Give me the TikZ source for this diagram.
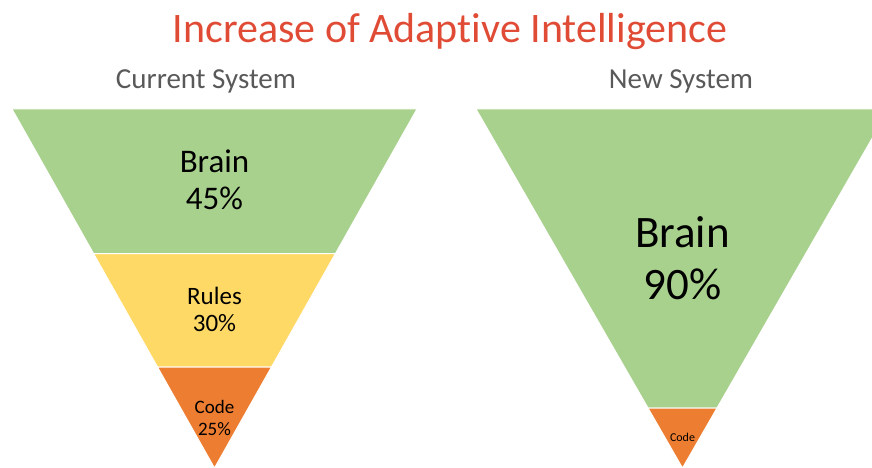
\documentclass[tikz,border=0pt]{standalone}
\usepackage{fontspec}
\setmainfont{Carlito}[Ligatures=NoCommon]
\usetikzlibrary{positioning}
\definecolor{brainGreen}{HTML}{A9D18E}
\definecolor{rulesYellow}{HTML}{FFD966}
\definecolor{codeOrange}{HTML}{ED7D31}
\definecolor{titleRed}{HTML}{E04B35}
\definecolor{subGray}{HTML}{595959}

\begin{document}
\begin{tikzpicture}[
      x=1pt,y=-1pt,
      band/.style={draw=white, line width=1pt},
      heading/.style={text=subGray, inner sep=0pt, font=\fontsize{29}{34}\selectfont},
      share/.style={align=center, inner sep=0pt, text=black}
      ]
      \useasboundingbox (0,0) rectangle (872,468);
      \clip (0,0) rectangle (872,468);

      % titles
      \node[text=titleRed, inner sep=0pt, font=\fontsize{42}{48}\selectfont] (title) at (450,32) {Increase of Adaptive Intelligence};
      \node[heading] (cur) at (206,81) {Current System};
      \node[heading] (new) at (681,81) {New System};

      % current system funnel
      \fill[brainGreen, band] (12,109) -- (417,109) -- (335.5,253.5) -- (93.5,253.5) -- cycle;
      \fill[rulesYellow, band] (93.5,253.5) -- (335.5,253.5) -- (271.5,367) -- (157.5,367) -- cycle;
      \fill[codeOrange, band] (157.5,367) -- (271.5,367) -- (214.5,468) -- cycle;

      % new system funnel
      \fill[brainGreen, band] (476,109) -- (889,109) -- (717,408) -- (648,408) -- cycle;
      \fill[codeOrange, band] (648,408) -- (717,408) -- (682.5,468) -- cycle;

      \node[share, font=\fontsize{33}{37}\selectfont] (brainCur) at (214.5,180) {Brain\\45\%};
      \node[share, font=\fontsize{25}{27}\selectfont] (rulesCur) at (214.5,309) {Rules\\30\%};
      \node[share, font=\fontsize{19}{22}\selectfont] (codeCur) at (214.5,418) {Code\\25\%};
      \node[share, font=\fontsize{45}{52}\selectfont] (brainNew) at (682.5,258) {Brain\\90\%};
      \node[share, font=\fontsize{12}{14}\selectfont] (codeNew) at (682.5,437) {Code};
    \end{tikzpicture}
\end{document}
